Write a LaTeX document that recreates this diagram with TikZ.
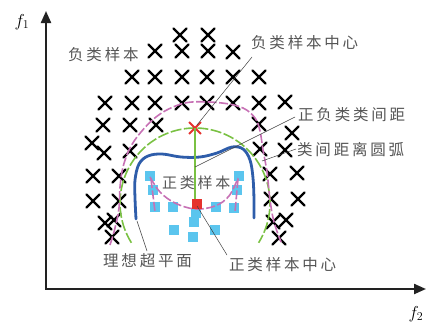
\documentclass[tikz,border=0pt]{standalone}
\usepackage{fontspec}
\newfontfamily\cjk[LetterSpace=18]{Noto Sans CJK SC}
\usetikzlibrary{arrows.meta,shapes.misc}
\definecolor{labgray}{HTML}{555555}
\definecolor{leadgray}{HTML}{404040}
\definecolor{posblue}{HTML}{5BC5EE}
\definecolor{hypblue}{HTML}{2E5DAA}
\definecolor{arcgreen}{HTML}{7AC143}
\definecolor{arcpink}{HTML}{C771B5}
\definecolor{cenred}{HTML}{E5322D}
\definecolor{axisdark}{HTML}{222222}
\begin{document}
\begin{tikzpicture}[x=1pt,y=-1pt,
  lbl/.style={font=\cjk\fontsize{15.5}{16}\selectfont, text=labgray, inner sep=0pt, anchor=west},
  negsample/.style={draw=black, cross out, line width=2.4pt, line cap=round, minimum size=10.5pt, inner sep=0pt},
  possample/.style={fill=posblue, minimum size=9.5pt, inner sep=0pt},
  lead/.style={draw=leadgray, line width=0.5pt},
  axisline/.style={draw=axisdark, line width=2.2pt, {Triangle[length=12pt,width=10pt]}-{Triangle[length=12pt,width=10pt]}},
  pinkdash/.style={draw=arcpink, line width=1.6pt, dash pattern=on 9pt off 2.5pt},
  greendash/.style={draw=arcgreen, line width=1.6pt, dash pattern=on 11pt off 2.5pt},
  hyper/.style={draw=hypblue, line width=2.8pt, line cap=round}]
\useasboundingbox (0,0) rectangle (427,327);

% axes
\coordinate (O) at (46,289);
\coordinate (Y) at (46,11);
\coordinate (X) at (426,289);
\draw[axisline] (Y) -- (O) -- (X);
\node (f1) at (22,22) {\fontsize{17}{17}\selectfont$f_1$};
\node (f2) at (416,314) {\fontsize{17}{17}\selectfont$f_2$};

% positive samples
\foreach \x/\y [count=\i] in {150/176,239/176,153/190,237/190,155/207,173/207,216/207,234/208,196/213,194/222,174/230,215/230,193/237}
  \node[possample] (p\i) at (\x,\y) {};

% negative samples
\foreach \x/\y [count=\i] in {
  180/35,208/35,
  155/51,182/51,208/51,233/52,
  132/77,155/77,182/77,207/77,233/77,259/77,
  105/103,132/103,155/103,182/103,207/103,233/103,259/103,285/102,
  103/125,130/125,156/125,259/124,292/133,
  92/143,104/153,130/151,260/149,285/150,
  93/176,119/176,270/174,297/173,
  93/201,119/201,271/199,298/199,
  105/223,114/220,273/222,286/220,
  112/237,279/238}
  \node[negsample] (n\i) at (\x,\y) {};

% ideal hyperplane
\draw[hyper] plot[smooth, tension=0.6] coordinates {(136,219) (135,198) (135,180) (139,164) (148,156) (162,154) (181,157) (200,157) (217,153) (232,147) (243,149) (250,160) (253,178) (254,200) (254,218)};

% green inter-class arc
\draw[greendash] plot[domain=148:392, samples=80] ({195+75*cos(\x)},{203+75*sin(\x)});

% pink arcs
\draw[pinkdash] plot[smooth, tension=0.6] coordinates {(110,245) (115,228) (119,208) (120,187) (123,167) (130,148) (141,132) (156,117) (173,107) (192,102) (222,103) (243,108) (255,118) (260,131) (263,150) (267,172) (270,200) (274,222) (281,242)};
\draw[pinkdash] plot[smooth, tension=0.6] coordinates {(150,177) (160,192) (175,203) (195,209) (215,206) (229,196) (238,178)};
\draw[pinkdash] (151,179) -- (155,212);
\draw[pinkdash] (238,179) -- (235,212);

% class centres
\node[draw=cenred, cross out, line width=1.8pt, minimum size=10pt, inner sep=0pt] (nc) at (195,128) {};
\node[fill=cenred, minimum size=10pt, inner sep=0pt] (pc) at (197,204) {};
\draw[draw=arcgreen, line width=1.6pt] (nc.center) -- (pc.north -| nc.center);

% labels
\node[lbl] (t1) at (68,55) {负类样本};
\node[lbl] (t2) at (251,43) {负类样本中心};
\node[lbl] (t3) at (298,115) {正负类类间距};
\node[lbl] (t4) at (297,150) {类间距离圆弧};
\node[lbl, font=\cjk\fontsize{15}{16}\selectfont] (t5) at (162,183) {正类样本};
\node[lbl] (t6) at (103,261) {理想超平面};
\node[lbl] (t7) at (229,265) {正类样本中心};

% leaders
\coordinate (a2) at (252,57);
\coordinate (b2) at (197,125);
\coordinate (a3) at (295,117);
\coordinate (b3) at (195,167);
\coordinate (a4) at (296,149);
\coordinate (b4) at (262,161);
\coordinate (a6) at (147,251);
\coordinate (b6) at (137,221);
\coordinate (a7) at (227,255);
\coordinate (b7) at (197,206);
\draw[lead] (a2) -- (b2);
\draw[lead] (a3) -- (b3);
\draw[lead] (a4) -- (b4);
\draw[lead] (a6) -- (b6);
\draw[lead] (a7) -- (b7);
\end{tikzpicture}
\end{document}
